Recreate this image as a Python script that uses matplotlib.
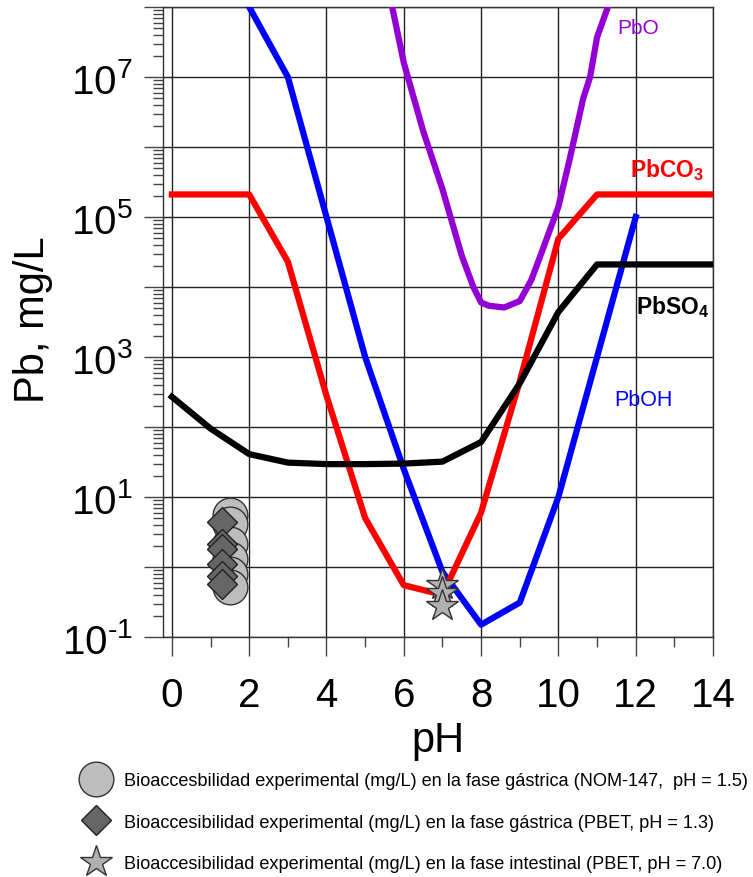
import matplotlib
matplotlib.use('Agg')
import matplotlib.pyplot as plt
from matplotlib.ticker import FixedLocator, LogLocator, MultipleLocator, FuncFormatter, NullFormatter

plt.rcParams['font.family'] = ['Liberation Sans', 'DejaVu Sans']
plt.rcParams['mathtext.fontset'] = 'custom'
plt.rcParams['mathtext.rm'] = 'Liberation Sans'
plt.rcParams['mathtext.it'] = 'Liberation Sans:italic'
plt.rcParams['mathtext.bf'] = 'Liberation Sans:bold'

# solubility curves (pH, Pb mg/L)
ph_pboh = [2, 3, 4, 5, 6, 7, 8, 9, 10, 11, 12]
pboh = [1e8, 1e7, 1e5, 1e3, 25, 0.85, 0.15, 0.31, 10, 1e3, 1e5]

ph_pbco3 = [0, 2, 3, 4, 5, 6, 7, 8, 9, 10, 11, 14]
pbco3 = [2.1e5, 2.1e5, 2.3e4, 280, 5, 0.55, 0.4, 6, 450, 4.9e4, 2.1e5, 2.1e5]

ph_pbso4 = [0, 1, 2, 3, 4, 5, 6, 7, 8, 9, 10, 11, 14]
pbso4 = [270, 95, 41, 31, 29.5, 29.5, 30, 32, 61, 420, 4400, 2.1e4, 2.1e4]

ph_pbo = [5.7, 6.0, 6.5, 7.0, 7.5, 7.8, 8.0, 8.2, 8.6, 9.0, 9.3, 9.6, 10.0, 10.3, 10.64, 10.82, 11.0, 11.26]
pbo = [1e8, 1.6e7, 1.7e6, 2.5e5, 2.8e4, 1e4, 6e3, 5.4e3, 5.1e3, 6.3e3, 1.26e4, 3.5e4, 1.4e5, 7e5, 4.9e6, 1e7, 3.7e7, 9.3e7]

# experimental bioaccessibility
ph_nom = 1.5
nom147 = [5.5, 4.1, 2.1, 1.3, 0.79, 0.52]
ph_pbet_g = 1.3
pbet_gastric = [4.4, 2.1, 1.8, 1.1, 0.74, 0.57]
ph_pbet_i = 7.0
pbet_intest = [0.55, 0.42, 0.28]

legend_labels = [
    'Bioaccesbilidad experimental (mg/L) en la fase g\u00e1strica (NOM-147,  pH = 1.5)',
    'Bioaccesibilidad experimental (mg/L) en la fase g\u00e1strica (PBET, pH = 1.3)',
    'Bioaccesibilidad experimental (mg/L) en la fase intestinal (PBET, pH = 7.0)',
]

fig = plt.figure(figsize=(7.53, 8.78), dpi=100)
ax = fig.add_axes([163 / 753, 1 - 638 / 878, 550 / 753, 630 / 878])

ax.set_yscale('log')
ax.set_xlim(-0.23, 14)
ax.set_ylim(0.1, 1e8)

grid_c = '#222222'
ax.grid(True, which='major', color=grid_c, lw=1.0, zorder=0)
ax.set_axisbelow(True)

ax.plot(ph_pboh, pboh, color='#0000ff', lw=4.5, zorder=3)
ax.plot(ph_pbco3, pbco3, color='#ff0000', lw=4.5, zorder=3)
ax.plot(ph_pbso4, pbso4, color='#000000', lw=4.5, zorder=3)
ax.plot(ph_pbo, pbo, color='#9400d3', lw=4.5, zorder=3)

ax.plot([ph_nom] * len(nom147), nom147, ls='none', marker='o', ms=25,
        mfc='#bdbdbd', mec='#333333', mew=1, zorder=4, label=legend_labels[0])
ax.plot([ph_pbet_g] * len(pbet_gastric), pbet_gastric, ls='none', marker='D', ms=15,
        mfc='#666666', mec='#222222', mew=1, zorder=5, label=legend_labels[1])
ax.plot([ph_pbet_i] * len(pbet_intest), pbet_intest, ls='none', marker='*', ms=24,
        mfc='#b0b0b0', mec='#333333', mew=1, zorder=6, label=legend_labels[2])

# curve labels
ax.text(11.52, 10 ** 7.71, 'PbO', color='#9400d3', fontsize=15, va='center')
ax.text(11.85, 10 ** 5.69, r'PbCO$_\mathbf{3}$', color='#ff0000', fontsize=16.5,
        fontweight='bold', va='center')
ax.text(12.0, 10 ** 3.73, r'PbSO$_\mathbf{4}$', color='#000000', fontsize=16.5,
        fontweight='bold', va='center')
ax.text(11.44, 10 ** 2.4, 'PbOH', color='#0000ff', fontsize=15.5, va='center')

# axes styling
for s in ax.spines.values():
    s.set_color('#333333')
    s.set_linewidth(1.0)

ax.xaxis.set_major_locator(MultipleLocator(2))
ax.xaxis.set_minor_locator(MultipleLocator(1))
ax.yaxis.set_major_locator(FixedLocator([10.0 ** e for e in range(-1, 9)]))
ax.yaxis.set_minor_locator(LogLocator(base=10, subs=range(2, 10), numticks=20))
ax.yaxis.set_minor_formatter(NullFormatter())

HYPHEN = '\u2010'


def ylab(v, pos):
    import math
    e = int(round(math.log10(v)))
    if e % 2 == 0:
        return ''
    if e < 0:
        return '$10^{' + HYPHEN + str(-e) + '}$'
    return '$10^{%d}$' % e


ax.yaxis.set_major_formatter(FuncFormatter(ylab))
ax.xaxis.set_major_formatter(FuncFormatter(lambda v, p: '%d' % v))

ax.tick_params(axis='both', which='major', direction='out', length=14, width=1,
               color='#444444', labelsize=29)
ax.tick_params(axis='both', which='minor', direction='out', length=7, width=1,
               color='#444444')
ax.tick_params(axis='x', which='major', pad=14)
ax.tick_params(axis='y', which='major', pad=8)

ax.text(0.5, (638 - 741) / 630, 'pH', transform=ax.transAxes, fontsize=30,
        ha='center', va='center')
ax.text((33 - 163) / 550, (638 - 320) / 630, 'Pb, mg/L', transform=ax.transAxes,
        fontsize=30, rotation=90, ha='center', va='center')

leg = ax.legend(loc='upper left', bbox_to_anchor=(72 / 753, 1 - 764 / 878),
                bbox_transform=fig.transFigure, frameon=False, fontsize=13.1,
                handlelength=1.6, handletextpad=0.75, labelspacing=1.35, borderpad=0)

fig.savefig('out.png', dpi=100)
